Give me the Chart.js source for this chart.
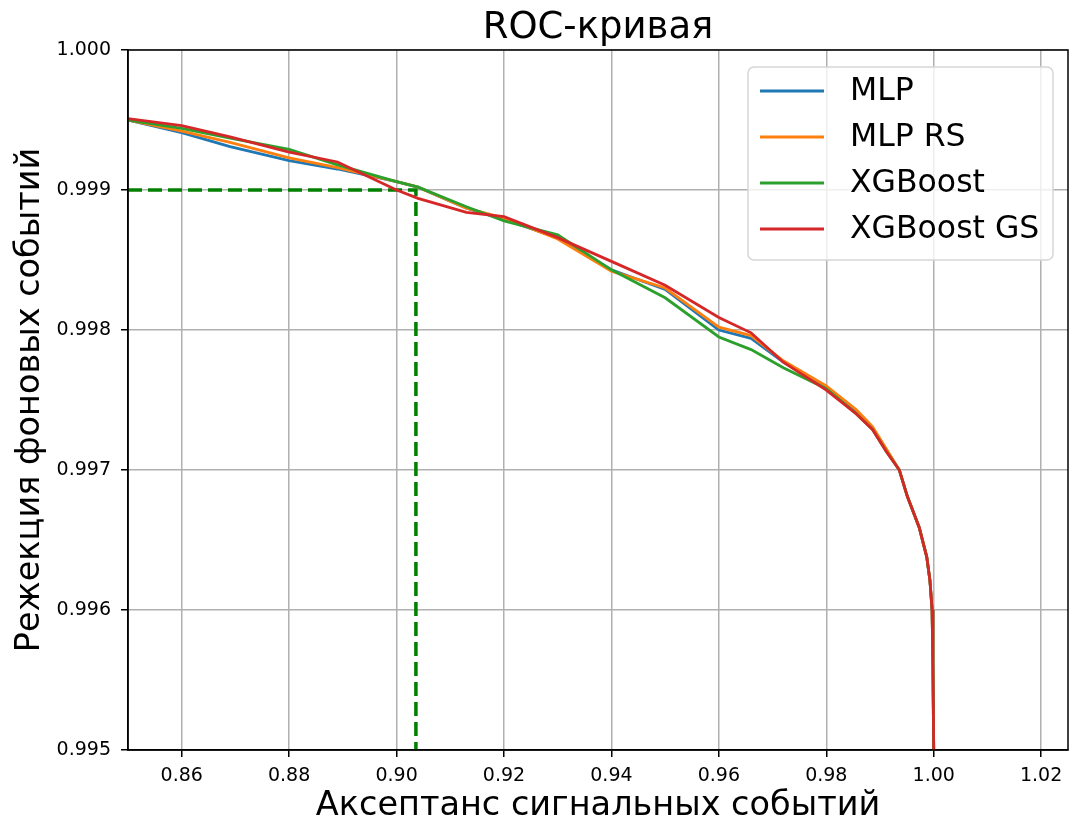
<!DOCTYPE html>
<html>
<head>
<meta charset="utf-8">
<script src="https://cdn.jsdelivr.net/npm/chart.js@4"></script>
<style>
  html, body { margin: 0; padding: 0; background: #fff; }
  #wrap { width: 1071px; height: 827px; }
</style>
</head>
<body>
<div id="wrap"><canvas id="roc" width="1071" height="827"></canvas></div>
<script>
// signal acceptance (x) shared by all curves
const acceptance = [0.850, 0.860, 0.869, 0.880, 0.889, 0.900, 0.904, 0.913, 0.920, 0.930,
                    0.940, 0.950, 0.960, 0.966, 0.972, 0.980, 0.9856, 0.9886, 0.9912, 0.9936,
                    0.9951, 0.9973, 0.9987, 0.9993, 0.9997, 0.99985, 1.000];

// background rejection (y) per model
const mlp   = [0.99950, 0.99941, 0.99931, 0.99921, 0.99915, 0.99906, 0.99902, 0.99887, 0.99879, 0.99866,
               0.99843, 0.99829, 0.99800, 0.99794, 0.99777, 0.99759, 0.99741, 0.99730, 0.99714, 0.99700,
               0.99681, 0.99659, 0.99638, 0.99621, 0.99600, 0.99562, 0.99500];
const mlpRs = [0.99950, 0.99942, 0.99934, 0.99923, 0.99916, 0.99906, 0.99902, 0.99887, 0.99880, 0.99865,
               0.99842, 0.99830, 0.99802, 0.99796, 0.99778, 0.99760, 0.99743, 0.99731, 0.99715, 0.99700,
               0.99681, 0.99659, 0.99638, 0.99621, 0.99600, 0.99562, 0.99500];
const xgb   = [0.99950, 0.99944, 0.99937, 0.99929, 0.99918, 0.99906, 0.99902, 0.99888, 0.99878, 0.99868,
               0.99843, 0.99823, 0.99795, 0.99786, 0.99773, 0.99758, 0.99740, 0.99729, 0.99713, 0.99700,
               0.99681, 0.99659, 0.99638, 0.99621, 0.99600, 0.99562, 0.99500];
const xgbGs = [0.99951, 0.99946, 0.99938, 0.99927, 0.99920, 0.99900, 0.99894, 0.99884, 0.99881, 0.99866,
               0.99849, 0.99832, 0.99809, 0.99798, 0.99777, 0.99757, 0.99740, 0.99729, 0.99713, 0.99700,
               0.99681, 0.99659, 0.99638, 0.99621, 0.99600, 0.99562, 0.99500];

// working point (dashed green guide)
const thrX = 0.9036;
const thrY = 0.999;

const labels = ["MLP", "MLP RS", "XGBoost", "XGBoost GS"];
const colors = ["#1f77b4", "#ff7f0e", "#2ca02c", "#d62728"];

const xTicks = [0.86, 0.88, 0.90, 0.92, 0.94, 0.96, 0.98, 1.00, 1.02];
const yTicks = [0.995, 0.996, 0.997, 0.998, 0.999, 1.000];

const FONT = "'DejaVu Sans', sans-serif";

function toPoints(ys) {
    return acceptance.map((x, i) => ({ x: x, y: ys[i] }));
}

const series = [mlp, mlpRs, xgb, xgbGs];
const datasets = series.map((ys, i) => ({
    label: labels[i],
    data: toPoints(ys),
    borderColor: colors[i],
    borderWidth: 2.8,
    pointRadius: 0,
    showLine: true,
    tension: 0,
    order: 3 - i   // red drawn on top, like matplotlib
}));

datasets.push({
    label: "threshold",
    data: [{ x: 0.85, y: thrY }, { x: thrX, y: thrY }, { x: thrX, y: 0.995 }],
    borderColor: "#008000",
    borderWidth: 3.5,
    borderDash: [14, 6],
    pointRadius: 0,
    showLine: true,
    order: 10
});

// title, top/right spines and matplotlib-like legend
const decor = {
    id: "decor",
    afterDraw(chart) {
        const { ctx, chartArea: a } = chart;
        ctx.save();

        ctx.strokeStyle = "#000";
        ctx.lineWidth = 1.5;
        ctx.strokeRect(a.left, a.top, a.right - a.left, a.bottom - a.top);

        ctx.fillStyle = "#000";
        ctx.font = "37px " + FONT;
        ctx.textAlign = "center";
        ctx.textBaseline = "alphabetic";
        ctx.fillText("ROC-кривая", (a.left + a.right) / 2, 38);

        // legend box
        const bx = 748, by = 67, bw = 305, bh = 193, r = 6;
        ctx.beginPath();
        ctx.moveTo(bx + r, by);
        ctx.arcTo(bx + bw, by, bx + bw, by + bh, r);
        ctx.arcTo(bx + bw, by + bh, bx, by + bh, r);
        ctx.arcTo(bx, by + bh, bx, by, r);
        ctx.arcTo(bx, by, bx + bw, by, r);
        ctx.closePath();
        ctx.fillStyle = "rgba(255,255,255,0.8)";
        ctx.fill();
        ctx.strokeStyle = "#d6d6d6";
        ctx.lineWidth = 1.5;
        ctx.stroke();

        ctx.font = "31.5px " + FONT;
        ctx.textAlign = "left";
        ctx.textBaseline = "middle";
        labels.forEach((lab, i) => {
            const y = 91 + i * 46;
            ctx.strokeStyle = colors[i];
            ctx.lineWidth = 3;
            ctx.beginPath();
            ctx.moveTo(760, y);
            ctx.lineTo(824, y);
            ctx.stroke();
            ctx.fillStyle = "#000";
            ctx.fillText(lab, 850, y + 1);
        });
        ctx.restore();
    }
};

new Chart(document.getElementById("roc"), {
    type: "scatter",
    data: { datasets: datasets },
    plugins: [decor],
    options: {
        responsive: false,
        animation: false,
        layout: { padding: { top: 50, right: 3, left: 0, bottom: 0 } },
        plugins: {
            legend: { display: false },
            tooltip: { enabled: false }
        },
        scales: {
            x: {
                type: "linear",
                min: 0.85,
                max: 1.025,
                afterFit: s => { s.height = 77; },
                afterBuildTicks: s => { s.ticks = xTicks.map(v => ({ value: v })); },
                ticks: {
                    color: "#000",
                    font: { family: FONT, size: 19 },
                    padding: 8,
                    maxRotation: 0,
                    callback: v => v.toFixed(2)
                },
                grid: { color: "#b0b0b0", lineWidth: 1.5, tickColor: "#000", tickLength: 7 },
                border: { color: "#000", width: 1.5 },
                title: {
                    display: true,
                    text: "Аксептанс сигнальных событий",
                    color: "#000",
                    font: { family: FONT, size: 33.5 },
                    padding: { top: 0, bottom: 1 }
                }
            },
            y: {
                type: "linear",
                min: 0.995,
                max: 1.000,
                afterFit: s => { s.width = 128; },
                afterBuildTicks: s => { s.ticks = yTicks.map(v => ({ value: v })); },
                ticks: {
                    color: "#000",
                    font: { family: FONT, size: 19 },
                    padding: 10,
                    callback: v => v.toFixed(3)
                },
                grid: { color: "#b0b0b0", lineWidth: 1.5, tickColor: "#000", tickLength: 7 },
                border: { color: "#000", width: 1.5 },
                title: {
                    display: true,
                    text: "Режекция фоновых событий",
                    color: "#000",
                    font: { family: FONT, size: 33.5 },
                    padding: { top: 10, bottom: 0 }
                }
            }
        }
    }
});
</script>
</body>
</html>
